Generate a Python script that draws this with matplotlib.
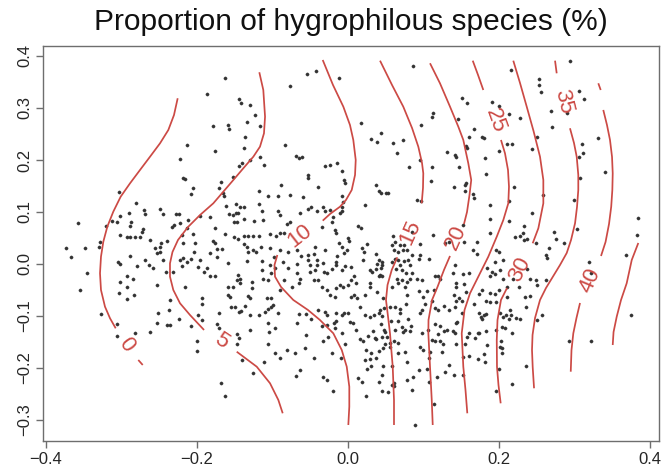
import matplotlib
matplotlib.use("Agg")
import matplotlib.pyplot as plt
import numpy as np

plt.rcParams['font.family'] = ['Liberation Sans', 'DejaVu Sans']

title = "Proportion of hygrophilous species (%)"
x_ticks = [-0.4, -0.2, 0.0, 0.2, 0.4]
y_ticks = [-0.3, -0.2, -0.1, 0.0, 0.1, 0.2, 0.3, 0.4]

# site scores on the first two ordination axes
site_scores = [
    (-0.187, 0.327), (-0.179, 0.266), (-0.176, 0.217), (-0.213, 0.228), (-0.222, 0.201),
    (-0.218, 0.166), (-0.216, 0.163), (-0.303, 0.139), (-0.357, 0.078), (-0.348, 0.030),
    (-0.373, 0.030), (-0.328, 0.043), (-0.329, 0.032), (-0.280, 0.118), (-0.320, 0.073),
    (-0.312, 0.083), (-0.306, 0.080), (-0.302, 0.092), (-0.290, 0.099), (-0.287, 0.080),
    (-0.288, 0.074), (-0.270, 0.104), (-0.269, 0.096), (-0.271, 0.067), (-0.273, 0.062),
    (-0.275, 0.051), (-0.282, 0.051), (-0.288, 0.051), (-0.293, 0.051), (-0.301, 0.056),
    (-0.262, 0.046), (-0.255, 0.030), (-0.249, 0.033), (-0.247, 0.041), (-0.249, 0.106),
    (-0.244, 0.096), (-0.240, 0.044), (-0.233, 0.072), (-0.230, 0.075), (-0.227, 0.096),
    (-0.224, 0.097), (-0.222, 0.078), (-0.211, 0.085), (-0.213, 0.069), (-0.220, 0.056),
    (-0.218, 0.040),
    (-0.366, 0.014), (-0.345, -0.018), (-0.354, -0.050), (-0.327, -0.096), (-0.306, -0.115),
    (-0.305, -0.138), (-0.282, -0.132), (-0.262, -0.130), (-0.304, 0.003), (-0.301, 0.000),
    (-0.289, 0.015), (-0.279, -0.003), (-0.268, 0.008), (-0.263, -0.002), (-0.258, -0.008),
    (-0.253, 0.022), (-0.248, 0.024), (-0.244, 0.008), (-0.241, -0.015), (-0.231, -0.015),
    (-0.252, -0.040), (-0.293, -0.024), (-0.284, -0.028), (-0.302, -0.035), (-0.293, -0.044),
    (-0.303, -0.056), (-0.293, -0.068), (-0.283, -0.060), (-0.251, -0.095), (-0.253, -0.114),
    (-0.240, -0.117), (-0.235, -0.117), (-0.237, -0.088), (-0.235, -0.069), (-0.224, -0.105),
    (-0.215, -0.044), (-0.222, 0.008), (-0.218, 0.011), (-0.213, 0.004), (-0.220, -0.004),
    (-0.163, 0.357), (-0.076, 0.342), (-0.054, 0.365), (-0.042, 0.372), (-0.012, 0.357),
    (-0.144, 0.317), (-0.142, 0.310), (-0.129, 0.305), (-0.123, 0.287), (-0.159, 0.267),
    (-0.157, 0.259), (-0.133, 0.274), (-0.116, 0.265), (-0.136, 0.245), (-0.138, 0.223),
    (-0.083, 0.228), (-0.068, 0.208), (-0.061, 0.206), (-0.064, 0.203), (-0.030, 0.189),
    (-0.024, 0.190), (-0.014, 0.194), (-0.116, 0.206), (-0.111, 0.190), (-0.129, 0.200),
    (-0.140, 0.194), (-0.144, 0.189), (0.017, 0.271), (0.031, 0.240), (0.039, 0.235),
    (0.044, 0.251), (0.060, 0.232), (0.065, 0.213), (0.073, 0.238), (0.086, 0.381),
    (0.097, 0.267), (0.096, 0.200), (0.081, 0.186),
    (0.295, 0.391), (0.216, 0.374), (0.253, 0.355), (0.254, 0.344), (0.256, 0.330),
    (0.307, 0.333), (0.313, 0.317), (0.151, 0.319), (0.158, 0.310), (0.191, 0.312),
    (0.200, 0.304), (0.213, 0.289), (0.228, 0.280), (0.269, 0.295), (0.290, 0.290),
    (0.113, 0.291), (0.111, 0.282), (0.146, 0.278), (0.167, 0.259), (0.178, 0.245),
    (0.181, 0.242), (0.161, 0.245), (0.157, 0.226), (0.158, 0.224), (0.132, 0.216),
    (0.142, 0.210), (0.144, 0.206), (0.211, 0.230), (0.217, 0.230), (0.244, 0.222),
    (0.251, 0.245), (0.270, 0.263), (0.332, 0.243), (0.310, 0.231), (0.312, 0.213),
    (0.307, 0.206), (0.182, 0.203), (0.200, 0.217), (0.111, 0.187), (0.148, 0.187),
    (0.308, 0.165), (0.341, 0.176), (0.385, 0.088), (0.383, 0.056),
    (0.320, 0.004), (0.322, -0.018), (0.369, 0.017), (0.375, -0.099), (0.322, -0.149),
    (-0.152, 0.168), (-0.168, 0.157), (-0.205, 0.146), (-0.207, 0.135), (-0.171, 0.146),
    (-0.165, 0.136), (-0.164, 0.131), (-0.118, 0.141), (-0.106, 0.131), (-0.089, 0.151),
    (-0.092, 0.131), (-0.077, 0.133), (-0.059, 0.128), (-0.053, 0.171), (-0.053, 0.165),
    (-0.039, 0.149), (-0.161, 0.112), (-0.148, 0.115), (-0.143, 0.109), (-0.138, 0.109),
    (-0.118, 0.115), (-0.157, 0.096), (-0.152, 0.094), (-0.148, 0.099), (-0.145, 0.098),
    (-0.151, 0.080), (-0.146, 0.081), (-0.138, 0.086), (-0.124, 0.083), (-0.114, 0.101),
    (-0.112, 0.085), (-0.093, 0.101), (-0.090, 0.094), (-0.063, 0.099), (-0.053, 0.105),
    (-0.049, 0.110), (-0.041, 0.101), (-0.076, 0.081), (-0.081, 0.076), (-0.183, 0.091),
    (-0.196, 0.092), (-0.176, 0.070), (-0.162, 0.058), (-0.151, 0.051), (-0.145, 0.049),
    (-0.137, 0.053), (-0.132, 0.054), (-0.125, 0.054), (-0.117, 0.054), (-0.103, 0.058),
    (-0.095, 0.053), (-0.090, 0.059), (-0.085, 0.060), (-0.205, 0.058), (-0.202, 0.041),
    (-0.204, 0.024), (-0.207, 0.009), (-0.178, 0.044), (-0.176, 0.041), (-0.173, 0.028),
    (-0.167, 0.029), (-0.182, 0.021), (-0.173, 0.013), (-0.158, 0.001), (-0.138, 0.038),
    (-0.134, 0.033), (-0.132, 0.024), (-0.125, 0.027), (-0.121, 0.024), (-0.115, 0.032),
    (-0.103, 0.030), (-0.098, 0.014), (-0.090, 0.027), (-0.079, 0.024), (-0.067, 0.027),
    (-0.062, 0.016), (-0.052, 0.017), (-0.045, 0.019), (-0.043, 0.032), (-0.052, 0.008),
    (-0.041, 0.008), (-0.195, 0.008), (-0.198, -0.005), (-0.187, -0.008), (-0.191, -0.015),
    (-0.182, -0.024), (-0.176, -0.024), (-0.134, 0.006), (-0.114, 0.006), (-0.103, -0.002),
    (-0.096, -0.008), (-0.086, 0.003), (-0.079, -0.008), (-0.067, 0.000), (-0.050, -0.002),
    (-0.041, -0.002), (-0.145, -0.021), (-0.147, -0.031), (-0.143, -0.028), (-0.143, -0.037),
    (-0.158, -0.044), (-0.152, -0.044), (-0.127, -0.035), (-0.127, -0.047), (-0.114, -0.012),
    (-0.112, -0.028), (-0.106, -0.031), (-0.101, -0.018), (-0.085, -0.031), (-0.090, -0.050),
    (-0.067, -0.018), (-0.063, -0.028), (-0.050, -0.015), (-0.043, -0.012), (-0.039, -0.031),
    (-0.045, -0.031), (-0.064, -0.037), (-0.074, -0.044), (-0.159, -0.060), (-0.156, -0.063),
    (-0.132, -0.061), (-0.129, -0.066), (-0.107, -0.066), (-0.101, -0.066), (-0.193, -0.066),
    (-0.008, 0.178), (-0.005, 0.162), (-0.004, 0.156), (0.038, 0.152), (0.042, 0.141),
    (0.044, 0.137), (0.051, 0.137), (0.054, 0.137), (0.092, 0.123), (0.097, 0.122),
    (0.110, 0.160), (-0.008, 0.130), (-0.006, 0.120), (-0.007, 0.110), (-0.008, 0.101),
    (-0.010, 0.098), (0.023, 0.114), (-0.033, 0.109), (-0.030, 0.101), (-0.023, 0.103),
    (-0.019, 0.091), (-0.021, 0.081), (-0.034, 0.072), (-0.017, 0.065), (-0.015, 0.060),
    (0.013, 0.073), (0.017, 0.069), (0.085, 0.062), (0.060, 0.053), (0.063, 0.043),
    (0.069, 0.037), (0.058, 0.037), (0.061, 0.027), (0.066, 0.024), (0.075, 0.037),
    (0.079, 0.027), (0.073, 0.027), (0.085, 0.017), (0.096, 0.039), (0.096, 0.017),
    (0.108, 0.009), (0.095, 0.009), (0.113, 0.056), (0.129, 0.040), (0.134, 0.043),
    (-0.012, 0.041), (-0.008, 0.032), (0.001, 0.050), (0.002, 0.045), (-0.001, 0.027),
    (-0.005, 0.022), (-0.030, 0.026), (-0.014, 0.015), (-0.015, 0.004), (-0.033, 0.001),
    (-0.015, -0.002), (-0.021, -0.010), (-0.007, -0.012), (-0.004, -0.004), (0.004, -0.005),
    (0.019, 0.030), (0.021, 0.024), (0.025, 0.039), (0.020, 0.008), (0.038, 0.019),
    (0.041, 0.008), (0.039, 0.000), (0.045, 0.004), (0.046, -0.002), (0.044, -0.008),
    (0.030, -0.012), (0.032, -0.015), (0.038, -0.010), (0.058, 0.004), (0.063, 0.009),
    (0.067, 0.008), (0.069, -0.002), (0.074, 0.006), (0.080, 0.008), (0.083, -0.002),
    (0.064, -0.010), (0.072, -0.012), (0.077, -0.018), (0.085, -0.018), (0.072, -0.031),
    (0.065, -0.028), (0.067, -0.037), (0.078, -0.034), (0.083, -0.028), (0.092, -0.028),
    (0.098, -0.030), (0.116, -0.024), (0.119, -0.023), (0.122, -0.028), (0.114, -0.050),
    (-0.032, -0.015), (-0.028, -0.018), (0.008, -0.023), (0.005, -0.030), (-0.010, -0.040),
    (-0.015, -0.047), (-0.006, -0.044), (0.001, -0.040), (0.011, -0.036), (0.043, -0.021),
    (0.041, -0.024), (0.046, -0.023), (0.030, -0.037), (0.029, -0.044), (0.039, -0.053),
    (0.023, -0.060), (0.008, -0.060), (0.005, -0.063), (0.012, -0.066), (-0.034, -0.044),
    (-0.028, -0.050), (-0.023, -0.060), (-0.017, -0.063), (0.047, -0.066), (0.058, -0.044),
    (0.076, -0.045), (0.078, -0.060), (0.094, -0.051), (0.100, -0.063), (0.105, -0.051),
    (0.183, 0.174), (0.157, 0.155), (0.155, 0.152), (0.155, 0.141), (0.166, 0.135),
    (0.167, 0.126), (0.141, 0.149), (0.189, 0.114), (0.188, 0.086), (0.214, 0.122),
    (0.220, 0.149), (0.258, 0.133), (0.300, 0.124), (0.304, 0.067), (0.244, 0.099),
    (0.214, 0.083), (0.234, 0.073), (0.232, 0.059), (0.222, 0.051), (0.228, 0.054),
    (0.234, 0.047), (0.238, 0.049), (0.250, 0.041), (0.273, 0.062), (0.276, 0.049),
    (0.286, 0.041), (0.266, 0.030), (0.263, 0.017), (0.264, 0.011), (0.153, 0.075),
    (0.154, 0.043), (0.171, 0.043), (0.189, 0.060), (0.166, 0.026), (0.171, 0.019),
    (0.197, 0.027), (0.200, 0.024), (0.195, 0.004), (0.206, 0.008), (0.185, -0.008),
    (0.191, -0.015), (0.188, -0.024), (0.195, -0.019), (0.202, -0.012), (0.142, -0.002),
    (0.139, -0.018), (0.153, -0.019), (0.160, -0.017), (0.144, -0.037), (0.144, -0.045),
    (0.154, -0.038), (0.157, -0.053), (0.141, -0.060), (0.148, -0.066), (0.206, -0.028),
    (0.219, -0.028), (0.227, -0.045), (0.238, -0.010), (0.241, -0.028), (0.250, -0.031),
    (0.251, -0.040), (0.263, -0.030), (0.178, -0.050), (0.174, -0.058), (0.189, -0.055),
    (0.195, -0.058), (0.201, -0.050), (0.211, -0.063), (0.235, -0.063), (0.241, -0.061),
    (0.211, -0.044),
    (-0.193, -0.077), (-0.198, -0.098), (-0.193, -0.108), (-0.207, -0.119), (-0.199, -0.149),
    (-0.200, -0.167), (-0.171, -0.094), (-0.173, -0.115), (-0.170, -0.124), (-0.154, -0.082),
    (-0.149, -0.082), (-0.144, -0.092), (-0.142, -0.090), (-0.136, -0.081), (-0.129, -0.098),
    (-0.117, -0.098), (-0.109, -0.092), (-0.105, -0.087), (-0.102, -0.083), (-0.099, -0.079),
    (-0.093, -0.095), (-0.147, -0.135), (-0.144, -0.143), (-0.146, -0.153), (-0.130, -0.127),
    (-0.105, -0.113), (-0.096, -0.124), (-0.104, -0.131), (-0.105, -0.153), (-0.096, -0.171),
    (-0.090, -0.181), (-0.081, -0.165), (-0.070, -0.172), (-0.056, -0.162), (-0.063, -0.204),
    (-0.068, -0.215), (-0.111, -0.188), (-0.126, -0.209), (-0.140, -0.185), (-0.168, -0.228),
    (-0.162, -0.254), (-0.065, -0.096), (-0.055, -0.096), (-0.048, -0.105), (-0.067, -0.113),
    (-0.055, -0.137), (-0.044, -0.180), (-0.039, -0.088),
    (-0.030, -0.092), (-0.027, -0.098), (-0.015, -0.094), (-0.008, -0.098), (-0.005, -0.094),
    (0.001, -0.095), (0.016, -0.082), (0.023, -0.098), (0.030, -0.101), (0.035, -0.098),
    (0.041, -0.095), (0.045, -0.100), (0.043, -0.088), (0.048, -0.085), (0.056, -0.082),
    (0.063, -0.083), (0.069, -0.087), (0.069, -0.095), (0.077, -0.076), (0.096, -0.095),
    (0.099, -0.088), (0.103, -0.077), (0.111, -0.072), (0.116, -0.085), (0.120, -0.088),
    (0.128, -0.081), (0.134, -0.088), (-0.034, -0.119), (-0.028, -0.117), (-0.018, -0.114),
    (-0.015, -0.109), (-0.017, -0.124), (-0.026, -0.140), (-0.033, -0.149), (-0.008, -0.133),
    (-0.004, -0.153), (0.003, -0.111), (0.007, -0.113), (0.011, -0.127), (0.016, -0.145),
    (0.020, -0.149), (0.027, -0.138), (0.024, -0.165), (0.031, -0.172), (0.033, -0.128),
    (0.036, -0.143), (0.038, -0.145), (0.044, -0.115), (0.048, -0.126), (0.050, -0.130),
    (0.052, -0.140), (0.057, -0.109), (0.066, -0.109), (0.072, -0.121), (0.076, -0.127),
    (0.063, -0.127), (0.066, -0.151), (0.056, -0.151), (0.056, -0.159), (0.047, -0.162),
    (0.042, -0.167), (0.045, -0.140), (0.050, -0.153), (0.061, -0.149), (0.080, -0.105),
    (0.083, -0.128), (0.073, -0.130), (0.084, -0.119), (0.098, -0.133), (0.106, -0.126),
    (0.116, -0.115), (0.122, -0.120), (0.128, -0.128), (0.131, -0.127), (0.119, -0.135),
    (0.111, -0.146), (0.116, -0.149), (0.122, -0.149), (0.126, -0.154), (0.096, -0.159),
    (0.100, -0.165), (0.109, -0.169), (0.107, -0.180), (0.125, -0.169), (0.129, -0.207),
    (0.134, -0.194), (0.094, -0.204), (0.105, -0.201), (0.067, -0.172), (0.076, -0.170),
    (0.079, -0.188), (-0.021, -0.172), (-0.009, -0.181), (-0.033, -0.217), (-0.027, -0.223),
    (-0.020, -0.244), (0.013, -0.220), (0.019, -0.226), (0.041, -0.226), (0.045, -0.213),
    (0.047, -0.197), (0.025, -0.201), (0.031, -0.197), (0.030, -0.183), (0.023, -0.185),
    (0.038, -0.181), (0.058, -0.197), (0.058, -0.233), (0.061, -0.235), (0.061, -0.228),
    (0.054, -0.246), (0.045, -0.244), (0.024, -0.253), (0.078, -0.223), (0.087, -0.218),
    (0.085, -0.242), (0.107, -0.226), (0.118, -0.218), (0.114, -0.269), (0.089, -0.310),
    (0.144, -0.072), (0.152, -0.072), (0.167, -0.077), (0.183, -0.072), (0.188, -0.074),
    (0.197, -0.074), (0.142, -0.082), (0.151, -0.094), (0.145, -0.111), (0.144, -0.114),
    (0.140, -0.128), (0.142, -0.133), (0.144, -0.153), (0.155, -0.153), (0.161, -0.132),
    (0.158, -0.140), (0.169, -0.143), (0.172, -0.133), (0.174, -0.133), (0.183, -0.128),
    (0.185, -0.156), (0.180, -0.173), (0.182, -0.188), (0.173, -0.183), (0.153, -0.178),
    (0.161, -0.177), (0.141, -0.213), (0.153, -0.213), (0.174, -0.094), (0.176, -0.101),
    (0.180, -0.098), (0.183, -0.096), (0.178, -0.105), (0.202, -0.095), (0.206, -0.101),
    (0.210, -0.098), (0.213, -0.105), (0.216, -0.098), (0.215, -0.088), (0.223, -0.103),
    (0.228, -0.106), (0.236, -0.083), (0.197, -0.126), (0.204, -0.121), (0.208, -0.124),
    (0.217, -0.132), (0.203, -0.148), (0.202, -0.159), (0.204, -0.162), (0.204, -0.172),
    (0.200, -0.201), (0.197, -0.244), (0.217, -0.231), (0.236, -0.196), (0.251, -0.107),
    (0.257, -0.098), (0.293, -0.148),
]

# fitted surface isolines (value, list of traced pieces)
isolines = [
    (0, [[(-0.2252, 0.3187), (-0.2301, 0.2865), (-0.2376, 0.2577), (-0.2486, 0.2321),
          (-0.2618, 0.2064), (-0.2751, 0.1808), (-0.2883, 0.1552), (-0.3007, 0.1295),
          (-0.3105, 0.1006), (-0.3184, 0.0718), (-0.3237, 0.0429), (-0.3268, 0.0140),
          (-0.3281, -0.0179), (-0.3268, -0.0500), (-0.3215, -0.0821), (-0.3148, -0.1045),
          (-0.3073, -0.1237)],
         [(-0.2774, -0.1846), (-0.2715, -0.1942)]]),
    (5, [[(-0.1171, 0.3687), (-0.1118, 0.3346), (-0.1095, 0.2833), (-0.1109, 0.2513),
          (-0.1162, 0.2256), (-0.1250, 0.2063), (-0.1383, 0.1840), (-0.1515, 0.1615),
          (-0.1648, 0.1390), (-0.1780, 0.1167), (-0.1956, 0.0942), (-0.2115, 0.0712),
          (-0.2248, 0.0462), (-0.2321, 0.0231), (-0.2354, 0.0013), (-0.2354, -0.0244),
          (-0.2310, -0.0500), (-0.2221, -0.0756), (-0.2089, -0.0981), (-0.1903, -0.1269)],
         [(-0.1470, -0.1687), (-0.1205, -0.1975), (-0.1029, -0.2294), (-0.0919, -0.2615),
          (-0.0861, -0.2871)]]),
    (10, [[(-0.0331, 0.3923), (-0.0195, 0.3442), (-0.0058, 0.3025), (0.0030, 0.2673),
           (0.0074, 0.2385), (0.0106, 0.2000), (0.0097, 0.1712), (0.0053, 0.1423),
           (-0.0023, 0.1231), (-0.0102, 0.1102), (-0.0234, 0.0962), (-0.0331, 0.0833)],
          [(-0.0932, 0.0173), (-0.0970, -0.0019), (-0.0963, -0.0244), (-0.0883, -0.0442),
           (-0.0721, -0.0692), (-0.0526, -0.0885), (-0.0368, -0.1077), (-0.0191, -0.1333),
           (-0.0079, -0.1654), (-0.0013, -0.1975), (0.0021, -0.2360), (0.0021, -0.2744),
           (0.0008, -0.3096)]]),
    (15, [[(0.0428, 0.3910), (0.0587, 0.3442), (0.0736, 0.3025), (0.0852, 0.2615),
           (0.0935, 0.2256), (0.0984, 0.1942), (0.1001, 0.1744), (0.0997, 0.1462),
           (0.0980, 0.1167)],
          [(0.0657, 0.0129), (0.0583, -0.0115), (0.0527, -0.0404), (0.0507, -0.0692),
           (0.0534, -0.1013), (0.0560, -0.1333), (0.0596, -0.1975), (0.0613, -0.2615),
           (0.0613, -0.3096)]]),
    (20, [[(0.1090, 0.3860), (0.1222, 0.3475), (0.1355, 0.3025), (0.1465, 0.2640),
           (0.1531, 0.2385), (0.1597, 0.1937), (0.1636, 0.1615), (0.1613, 0.1327),
           (0.1580, 0.1000), (0.1540, 0.0769)],
          [(0.1355, 0.0154), (0.1275, -0.0115), (0.1189, -0.0442), (0.1117, -0.0692),
           (0.1070, -0.1077), (0.1068, -0.1333), (0.1090, -0.1975), (0.1113, -0.2615),
           (0.1126, -0.3096)]]),
    (25, [[(0.1656, 0.3910), (0.1726, 0.3635), (0.1796, 0.3346)],
          [(0.2030, 0.2385), (0.2083, 0.2129), (0.2123, 0.1808), (0.2136, 0.1487),
           (0.2127, 0.1167), (0.2061, 0.0846), (0.1974, 0.0525), (0.1862, 0.0140),
           (0.1752, -0.0179), (0.1620, -0.0563), (0.1547, -0.0885), (0.1510, -0.1333),
           (0.1531, -0.1975), (0.1560, -0.2423), (0.1584, -0.2871)]]),
    (30, [[(0.2193, 0.3910), (0.2282, 0.3481), (0.2371, 0.3025), (0.2461, 0.2558),
           (0.2547, 0.2063), (0.2591, 0.1615), (0.2591, 0.1167), (0.2525, 0.0687),
           (0.2450, 0.0398)],
          [(0.2110, -0.0462), (0.2030, -0.0692), (0.1984, -0.1077), (0.1974, -0.1462),
           (0.1977, -0.1975), (0.1997, -0.2327), (0.2026, -0.2679)]]),
    (35, [[(0.2746, 0.3910), (0.2768, 0.3667)],
          [(0.2944, 0.2610), (0.2997, 0.2327), (0.3033, 0.2063), (0.3054, 0.1712),
           (0.3054, 0.1423), (0.3037, 0.1096), (0.3011, 0.0783), (0.2958, 0.0462),
           (0.2901, 0.0212), (0.2812, -0.0019), (0.2723, -0.0231), (0.2626, -0.0462),
           (0.2547, -0.0692), (0.2481, -0.1038), (0.2448, -0.1365), (0.2441, -0.1654),
           (0.2450, -0.1981), (0.2468, -0.2390)]]),
    (40, [[(0.3319, 0.3475), (0.3351, 0.3346)],
          [(0.3385, 0.2962), (0.3434, 0.2673), (0.3474, 0.2385), (0.3501, 0.2058),
           (0.3510, 0.1744), (0.3505, 0.1423), (0.3490, 0.1102), (0.3461, 0.0769),
           (0.3415, 0.0423), (0.3355, 0.0154)],
          [(0.3077, -0.0750), (0.3030, -0.1038), (0.2988, -0.1333), (0.2964, -0.1654),
           (0.2954, -0.2071)]]),
    (45, [[(0.3849, 0.0404), (0.3762, 0.0077), (0.3695, -0.0371), (0.3620, -0.0692),
           (0.3563, -0.1013), (0.3521, -0.1308), (0.3510, -0.1558)]]),
]

# isoline labels: value, position, angle along the line
isoline_labels = [
    ("0", -0.2936, -0.1558, -54),
    ("5", -0.1678, -0.1481, -34),
    ("10", -0.0633, 0.0538, 38),
    ("15", 0.0825, 0.0615, 66),
    ("20", 0.1434, 0.0519, 66),
    ("25", 0.1951, 0.2750, -70),
    ("30", 0.2282, -0.0096, 63),
    ("35", 0.2852, 0.3115, -76),
    ("40", 0.3209, -0.0308, 67),
]

line_color = "#cc4a45"
frame_color = "#6e6e6e"

fig = plt.figure(figsize=(6.61, 4.75), dpi=100)
ax = fig.add_axes([43 / 661, 34 / 475, 616 / 661, 395 / 475])

pts = np.array(site_scores)
ax.plot(pts[:, 0], pts[:, 1], linestyle="none", marker="o", ms=2.3,
        mfc="#333333", mec="#333333", mew=0.3, zorder=2)

for level, pieces in isolines:
    for piece in pieces:
        seg = np.array(piece)
        ax.plot(seg[:, 0], seg[:, 1], color=line_color, lw=1.25, zorder=3,
                solid_capstyle="butt")

for text, lx, ly, ang in isoline_labels:
    ax.text(lx, ly, text, color=line_color, fontsize=16, rotation=ang,
            ha="center", va="center", rotation_mode="anchor", zorder=4)

ax.set_xlim(-0.4036, 0.4123)
ax.set_ylim(-0.3404, 0.4192)

ax.set_xticks(x_ticks)
ax.set_xticklabels([f"{v:.1f}".replace("-", "\u2212") for v in x_ticks])
ax.set_yticks(y_ticks)
ax.set_yticklabels([f"{v:.1f}".replace("-", "\u2212") for v in y_ticks],
                   rotation=90, va="center")

for side in ax.spines.values():
    side.set_color(frame_color)
    side.set_linewidth(1.0)

ax.tick_params(direction="out", length=5, width=1.0, color=frame_color,
               labelsize=12, labelcolor="#262626", pad=3)

fig.text(351 / 661, 1 - 22 / 475, title, ha="center", va="center",
         fontsize=21.5, color="#111111")

fig.savefig("out.png", dpi=100, facecolor="white")
